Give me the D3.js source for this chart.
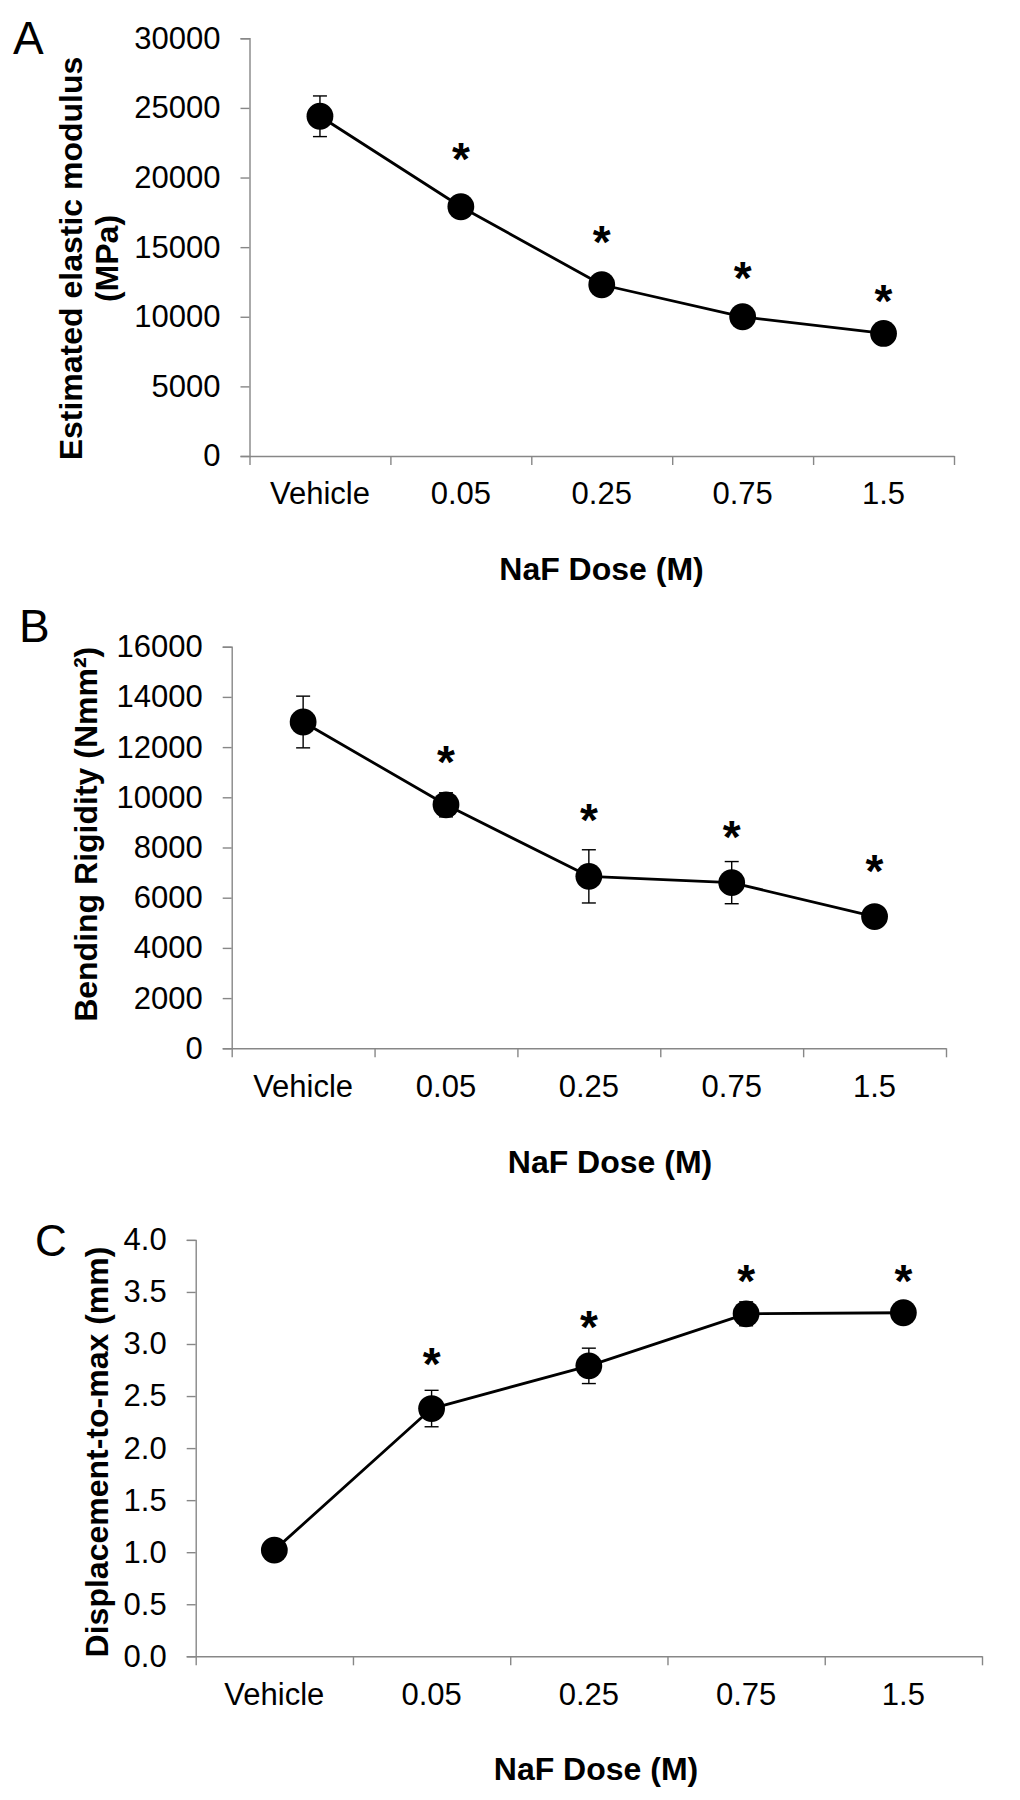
<!DOCTYPE html>
<html>
<head>
<meta charset="utf-8">
<script src="https://cdn.jsdelivr.net/npm/d3@7"></script>
<style>
  html, body { margin: 0; padding: 0; background: #ffffff; }
  svg { display: block; }
  text { font-family: "Liberation Sans", Arial, sans-serif; fill: #000; }
</style>
</head>
<body>
<svg id="chart" width="1020" height="1800"></svg>
<script>
// ---------------- DATA ----------------
const categories = ["Vehicle", "0.05", "0.25", "0.75", "1.5"];

// Panel A: Estimated elastic modulus (MPa)
const modulusMean = [24400, 17900, 12300, 10000, 8800];
const modulusErr  = [1460, 450, 450, 450, 400];
const modulusStar = [null, 22000, 16050, 13500, 11800];
const modulusTicks = [0, 5000, 10000, 15000, 20000, 25000, 30000];

// Panel B: Bending Rigidity (Nmm^2)
const rigidityMean = [13000, 9700, 6850, 6600, 5250];
const rigidityErr  = [1030, 480, 1060, 840, 300];
const rigidityStar = [null, 11800, 9480, 8800, 7450];
const rigidityTicks = [0, 2000, 4000, 6000, 8000, 10000, 12000, 14000, 16000];

// Panel C: Displacement-to-max (mm)
const dispMean = [1.02, 2.38, 2.79, 3.29, 3.30];
const dispErr  = [0.05, 0.175, 0.17, 0.115, 0.06];
const dispStar = [null, 2.90, 3.26, 3.70, 3.70];
const dispTicks = [0, 0.5, 1.0, 1.5, 2.0, 2.5, 3.0, 3.5, 4.0];

const xTitleText = "NaF Dose (M)";

// ---------------- LAYOUT ----------------
const panels = [
  {
    letter: "A", letterX: 13, letterY: 54, letterSize: 46,
    mean: modulusMean, err: modulusErr, star: modulusStar, ticks: modulusTicks,
    fmt: d3.format("d"), domain: [0, 30000],
    x0: 249.5, x1: 954, y0: 456, y1: 38.3,
    xLabelY: 504, xTitleX: 601.5, xTitleY: 580,
    yTitle: [{ text: "Estimated elastic modulus", x: 81.7 }, { text: "(MPa)", x: 118 }],
    yTitleCY: 258.5
  },
  {
    letter: "B", letterX: 19, letterY: 642, letterSize: 46,
    mean: rigidityMean, err: rigidityErr, star: rigidityStar, ticks: rigidityTicks,
    fmt: d3.format("d"), domain: [0, 16000],
    x0: 231.7, x1: 946, y0: 1048.3, y1: 646.7,
    xLabelY: 1097, xTitleX: 610, xTitleY: 1173,
    yTitle: [{ text: "Bending Rigidity (Nmm\u00B2)", x: 97 }],
    yTitleCY: 834.3
  },
  {
    letter: "C", letterX: 35, letterY: 1256, letterSize: 44,
    mean: dispMean, err: dispErr, star: dispStar, ticks: dispTicks,
    fmt: d3.format(".1f"), domain: [0, 4],
    x0: 195.7, x1: 982, y0: 1656.3, y1: 1239.9,
    xLabelY: 1705, xTitleX: 596, xTitleY: 1780,
    yTitle: [{ text: "Displacement-to-max (mm)", x: 108 }],
    yTitleCY: 1452
  }
];

const axisColor = "#878787";
const tickFont = 31;
const titleFont = 32;
const starFont = 46;
const radius = 13.4;

const svg = d3.select("#chart");
svg.append("rect").attr("width", 1020).attr("height", 1800).attr("fill", "#fff");

panels.forEach(p => {
  const g = svg.append("g");
  const x = d3.scaleBand().domain(categories).range([p.x0, p.x1]).paddingInner(0).paddingOuter(0);
  const y = d3.scaleLinear().domain(p.domain).range([p.y0, p.y1]);
  const cx = d => x(d) + x.bandwidth() / 2;

  // Y axis
  const yAxis = d3.axisLeft(y).tickValues(p.ticks).tickFormat(p.fmt).tickSize(9).tickPadding(20);
  const yg = g.append("g").attr("transform", `translate(${p.x0},0)`).call(yAxis);
  yg.select(".domain").attr("stroke", axisColor).attr("stroke-width", 1.4);
  yg.selectAll(".tick line").attr("stroke", axisColor).attr("stroke-width", 1.4);
  yg.selectAll(".tick text").attr("font-size", tickFont).attr("font-family", "Liberation Sans, Arial, sans-serif").attr("fill", "#000");

  // X axis: ticks at band boundaries
  const xLin = d3.scaleLinear().domain([0, categories.length]).range([p.x0, p.x1]);
  const xAxis = d3.axisBottom(xLin).tickValues(d3.range(0, categories.length + 1)).tickFormat("").tickSize(9).tickSizeOuter(0);
  const xg = g.append("g").attr("transform", `translate(0,${p.y0})`).call(xAxis);
  xg.select(".domain").attr("stroke", axisColor).attr("stroke-width", 1.4);
  xg.selectAll(".tick line").attr("stroke", axisColor).attr("stroke-width", 1.4);

  // Category labels
  g.selectAll(".cat").data(categories).join("text")
    .attr("class", "cat")
    .attr("x", d => cx(d)).attr("y", p.xLabelY)
    .attr("text-anchor", "middle").attr("font-size", tickFont)
    .text(d => d);

  // X title
  g.append("text").attr("x", p.xTitleX).attr("y", p.xTitleY)
    .attr("text-anchor", "middle").attr("font-size", titleFont).attr("font-weight", "bold")
    .text(xTitleText);

  // Y title (rotated)
  p.yTitle.forEach(t => {
    g.append("text")
      .attr("transform", `translate(${t.x},${p.yTitleCY}) rotate(-90)`)
      .attr("text-anchor", "middle").attr("font-size", titleFont).attr("font-weight", "bold")
      .text(t.text);
  });

  // Panel letter
  g.append("text").attr("x", p.letterX).attr("y", p.letterY)
    .attr("font-size", p.letterSize).text(p.letter);

  const rows = categories.map((c, i) => ({ c, v: p.mean[i], e: p.err[i], s: p.star[i] }));

  // Error bars
  const eb = g.append("g").attr("stroke", "#000").attr("stroke-width", 1.4).attr("fill", "none");
  rows.forEach(r => {
    const X = cx(r.c);
    eb.append("line").attr("x1", X).attr("x2", X).attr("y1", y(r.v - r.e)).attr("y2", y(r.v + r.e));
    eb.append("line").attr("x1", X - 7).attr("x2", X + 7).attr("y1", y(r.v + r.e)).attr("y2", y(r.v + r.e));
    eb.append("line").attr("x1", X - 7).attr("x2", X + 7).attr("y1", y(r.v - r.e)).attr("y2", y(r.v - r.e));
  });

  // Line
  const line = d3.line().x(r => cx(r.c)).y(r => y(r.v));
  g.append("path").datum(rows).attr("d", line)
    .attr("fill", "none").attr("stroke", "#000").attr("stroke-width", 2.8).attr("stroke-linejoin", "round");

  // Markers
  g.selectAll(".pt").data(rows).join("circle")
    .attr("class", "pt").attr("cx", r => cx(r.c)).attr("cy", r => y(r.v))
    .attr("r", radius).attr("fill", "#000");

  // Significance asterisks
  g.selectAll(".star").data(rows.filter(r => r.s != null)).join("text")
    .attr("class", "star")
    .attr("x", r => cx(r.c)).attr("y", r => y(r.s) + starFont * 0.56)
    .attr("text-anchor", "middle").attr("font-size", starFont).attr("font-weight", "bold")
    .text("*");
});
</script>
</body>
</html>
